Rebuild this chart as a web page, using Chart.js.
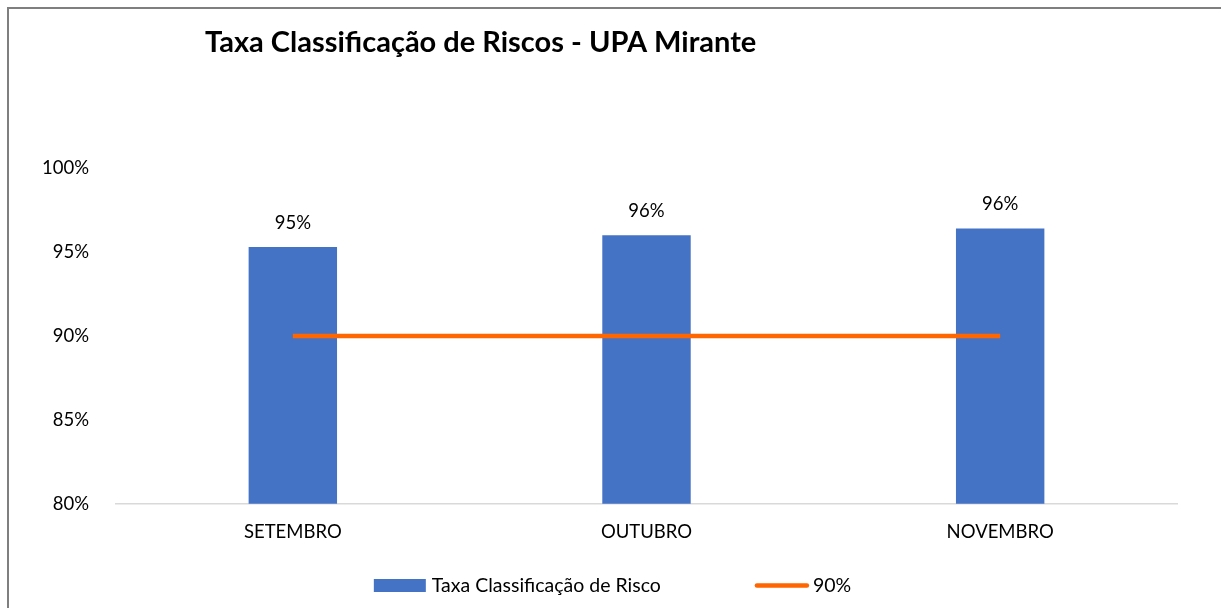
<!DOCTYPE html>
<html lang="pt">

<head>
    <meta charset="UTF-8">
    <title>Taxa Classificação de Riscos - UPA Mirante</title>
    <script src="https://cdn.jsdelivr.net/npm/chart.js"></script>
    <style>
        html, body { margin: 0; padding: 0; background: #fff; }
        #wrap { position: relative; width: 1221px; height: 608px; overflow: hidden; }
        #frame {
            position: absolute; left: 7px; top: 7px; right: -10px; bottom: -10px;
            border-left: 2px solid #7f7f7f; border-top: 2px solid #7f7f7f;
            pointer-events: none;
        }
    </style>
</head>

<body>
    <div id="wrap">
        <canvas id="chart" width="1221" height="608"></canvas>
        <div id="frame"></div>
    </div>

    <script>
        // data
        const months = ['SETEMBRO', 'OUTUBRO', 'NOVEMBRO'];
        const taxaRisco = [95.3, 96.0, 96.4];
        const meta = [90, 90, 90];
        const taxaLabels = ['95%', '96%', '96%'];
        const chartTitle = 'Taxa Classificação de Riscos - UPA Mirante';

        const FONT = 'Lato, "Open Sans", sans-serif';
        const FSIZE = 18.5;

        // title sits left of centre like in the spreadsheet export
        const titlePlugin = {
            id: 'titleLeft',
            afterDraw(chart) {
                const ctx = chart.ctx;
                ctx.save();
                ctx.font = 'bold 29px ' + FONT;
                ctx.fillStyle = '#000';
                ctx.textBaseline = 'middle';
                ctx.textAlign = 'left';
                ctx.fillText(chartTitle, 205, 43);
                ctx.restore();
            }
        };

        // value labels above bars
        const barLabels = {
            id: 'barLabels',
            afterDatasetsDraw(chart) {
                const ctx = chart.ctx;
                const bars = chart.getDatasetMeta(1);
                ctx.save();
                ctx.font = FSIZE + 'px ' + FONT;
                ctx.fillStyle = '#000';
                ctx.textAlign = 'center';
                ctx.textBaseline = 'middle';
                bars.data.forEach((bar, i) => {
                    ctx.fillText(taxaLabels[i], bar.x, bar.y - 24);
                });
                ctx.restore();
            }
        };

        // legend at the bottom, drawn by hand so the gap between items
        // doesn't blow up the legend height
        const bottomLegend = {
            id: 'bottomLegend',
            afterDraw(chart) {
                const ctx = chart.ctx;
                const ds = chart.data.datasets;
                const bar = ds[1], line = ds[0];
                ctx.save();
                ctx.font = '19.5px ' + FONT;
                const w1 = ctx.measureText(bar.label).width;
                const w2 = ctx.measureText(line.label).width;
                const total = 52 + 6 + w1 + 94 + 54 + 4 + w2;
                let x = chart.width / 2 - total / 2 + 2;
                const y = 585.5;
                ctx.fillStyle = bar.backgroundColor;
                ctx.fillRect(x, y - 6.5, 52, 13);
                x += 58;
                ctx.fillStyle = '#000';
                ctx.textBaseline = 'middle';
                ctx.fillText(bar.label, x, y);
                x += w1 + 94;
                ctx.strokeStyle = line.borderColor;
                ctx.lineWidth = 4.5;
                ctx.lineCap = 'round';
                ctx.beginPath();
                ctx.moveTo(x + 2, y);
                ctx.lineTo(x + 52, y);
                ctx.stroke();
                x += 58;
                ctx.fillText(line.label, x, y);
                ctx.restore();
            }
        };

        const ctx = document.getElementById('chart').getContext('2d');
        new Chart(ctx, {
            data: {
                labels: months,
                datasets: [{
                    type: 'line',
                    label: '90%',
                    data: meta,
                    borderColor: '#FF6600',
                    backgroundColor: '#FF6600',
                    borderWidth: 4.5,
                    pointRadius: 0,
                    order: 0
                }, {
                    type: 'bar',
                    label: 'Taxa Classificação de Risco',
                    data: taxaRisco,
                    backgroundColor: '#4472C4',
                    categoryPercentage: 1,
                    barPercentage: 0.25,
                    order: 1
                }]
            },
            options: {
                responsive: false,
                animation: false,
                layout: { padding: { left: 0, right: 44, top: 168, bottom: 56 } },
                plugins: {
                    title: { display: false },
                    tooltip: { enabled: false },
                    legend: { display: false }
                },
                scales: {
                    x: {
                        grid: { display: false },
                        border: { display: true, color: '#d9d9d9', width: 1.5 },
                        ticks: { color: '#000', padding: 9, font: { family: FONT, size: FSIZE } }
                    },
                    y: {
                        min: 80,
                        max: 100,
                        grid: { display: false },
                        border: { display: false },
                        afterFit(scale) { scale.width = 116; },
                        ticks: {
                            stepSize: 5,
                            padding: 19,
                            color: '#000',
                            font: { family: FONT, size: FSIZE },
                            callback: v => v + '%'
                        }
                    }
                }
            },
            plugins: [titlePlugin, barLabels, bottomLegend]
        });
    </script>
</body>

</html>
